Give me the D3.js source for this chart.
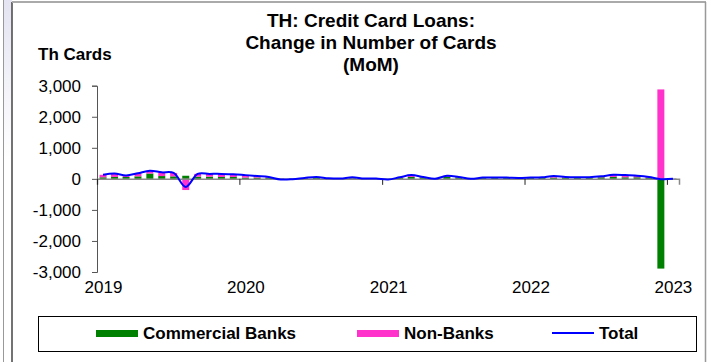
<!DOCTYPE html>
<html>
<head>
<meta charset="utf-8">
<script src="https://cdn.jsdelivr.net/npm/d3@7"></script>
<style>
  body { margin: 0; background: #fff; }
  svg { display: block; font-family: Arial, "Liberation Sans", sans-serif; }
</style>
</head>
<body>
<div id="chart"></div>
<script>
'use strict';

// months Jan 2019 .. Jan 2023
var months = d3.timeMonths(new Date(2019, 0, 1), new Date(2023, 1, 1));

// Th cards, MoM change
var commercialBanks = [
  50, 60, 60, 80, 170, 90, 80, 100, 70, 70, 60, 60,
  40, 40, 30, 10, 10, 20, 30, 20, 10, 20, 10, 10,
  -10, 30, 60, 50, 10, 60, 50, 10, 30, 30, 30, 20,
  30, 30, 40, 40, 30, 40, 50, 60, 50, 50, 30, -2890,
  10
];
var nonBanks = [
  80, 110, 50, 100, 90, 120, 110, -360, 90, 90, 100, 90,
  80, 50, 30, -30, -20, 10, 30, 0, 0, 30, 0, 0,
  -10, 20, 60, 10, -10, 40, 10, -10, 10, 10, 10, 10,
  10, 20, 50, 20, 20, 10, 30, 70, 70, 50, 30, 2880,
  -10
];
var total = [
  130, 170, 110, 180, 260, 210, 190, -260, 160, 160, 160, 150,
  120, 90, 60, -20, -10, 30, 60, 20, 10, 50, 10, 10,
  -20, 50, 120, 60, 0, 100, 60, 0, 40, 40, 40, 30,
  40, 50, 90, 60, 50, 50, 80, 130, 120, 100, 60, -10,
  0
];
var yTicks = [-3000, -2000, -1000, 0, 1000, 2000, 3000];
var titleLines = ['TH: Credit Card Loans:', 'Change in Number of Cards', '(MoM)'];

var W = 717, H = 362;
var colors = { bank: '#008000', nonbank: '#ff33cc', total: '#0000ff' };
var fmt = d3.formatLocale({ decimal: '.', thousands: ',', grouping: [3], currency: ['', ''], minus: '-' }).format(',');

var svg = d3.select('#chart').append('svg')
  .attr('width', W)
  .attr('height', H);

// page decoration / frame
var grad = svg.append('defs').append('linearGradient')
  .attr('id', 'band').attr('x1', 0).attr('y1', 0).attr('x2', 0).attr('y2', 1);
grad.append('stop').attr('offset', '0%').attr('stop-color', '#e4e4f2');
grad.append('stop').attr('offset', '100%').attr('stop-color', '#ffffff');
svg.append('rect').attr('x', 4).attr('y', 0).attr('width', 8).attr('height', 160).attr('fill', 'url(#band)');
svg.append('line').attr('x1', 3.5).attr('x2', 3.5).attr('y1', 0).attr('y2', H).attr('stroke', '#999').attr('stroke-width', 1);
svg.append('line').attr('x1', 12).attr('x2', 12).attr('y1', 2).attr('y2', H).attr('stroke', '#444').attr('stroke-width', 1.5);
svg.append('line').attr('x1', 12).attr('x2', 706).attr('y1', 2).attr('y2', 2).attr('stroke', '#aaa').attr('stroke-width', 2);
svg.append('line').attr('x1', 705.5).attr('x2', 705.5).attr('y1', 2).attr('y2', H).attr('stroke', '#999').attr('stroke-width', 1.5);

// title
svg.append('text')
  .attr('text-anchor', 'middle')
  .attr('font-weight', 'bold')
  .attr('font-size', 19)
  .selectAll('tspan')
  .data(titleLines)
  .enter().append('tspan')
  .attr('x', 371)
  .attr('y', function(d, i) { return 27 + i * 22; })
  .text(function(d) { return d; });

svg.append('text')
  .attr('x', 38).attr('y', 60)
  .attr('font-weight', 'bold').attr('font-size', 17)
  .text('Th Cards');

// scales
var x = d3.scaleTime()
  .domain([new Date(2019, 0, 1), new Date(2023, 1, 1)])
  .range([97, 679]);
var y = d3.scaleLinear()
  .domain([-3000, 3000])
  .range([272, 85.7]);

function monthCenter(d) {
  return (x(d) + x(d3.timeMonth.offset(d, 1))) / 2;
}

var barW = 7;
var rows = months.map(function(d, i) {
  return { date: d, bank: commercialBanks[i], nonbank: nonBanks[i], total: total[i] };
});

// stacked bars: positives stack up, negatives stack down
var segs = [];
rows.forEach(function(r) {
  var pos = 0, neg = 0;
  [['bank', r.bank], ['nonbank', r.nonbank]].forEach(function(s) {
    var v = s[1], y0, y1;
    if (v >= 0) { y0 = pos; y1 = pos + v; pos = y1; }
    else { y0 = neg; y1 = neg + v; neg = y1; }
    segs.push({ date: r.date, key: s[0], y0: y0, y1: y1 });
  });
});

// y axis
var yAxis = svg.append('g')
  .attr('transform', 'translate(97,0)')
  .call(d3.axisLeft(y).tickValues(yTicks).tickSize(5).tickPadding(11)
    .tickFormat(fmt));
yAxis.select('.domain').attr('stroke', '#555');
yAxis.selectAll('.tick line').attr('stroke', '#555');
yAxis.selectAll('text').attr('font-size', 17).attr('fill', '#000')
  .attr('font-family', 'Arial, "Liberation Sans", sans-serif');

svg.append('g').selectAll('rect')
  .data(segs)
  .enter().append('rect')
  .attr('x', function(d) { return monthCenter(d.date) - barW / 2; })
  .attr('width', barW)
  .attr('y', function(d) { return y(Math.max(d.y0, d.y1)); })
  .attr('height', function(d) { return Math.abs(y(d.y0) - y(d.y1)); })
  .attr('fill', function(d) { return colors[d.key]; });

// x axis at zero
var xAxis = svg.append('g')
  .attr('transform', 'translate(0,' + y(0) + ')')
  .call(d3.axisBottom(x).ticks(d3.timeYear).tickSize(6).tickFormat(''));
xAxis.select('.domain').attr('stroke', '#888').attr('stroke-width', 1.5);
xAxis.selectAll('.tick line').attr('stroke', '#222');

// year labels along the bottom
var xLabels = svg.append('g')
  .attr('transform', 'translate(6,281)')
  .call(d3.axisBottom(x).ticks(d3.timeYear).tickSize(0).tickPadding(0)
    .tickFormat(d3.timeFormat('%Y')));
xLabels.select('.domain').remove();
xLabels.selectAll('text').attr('font-size', 17).attr('fill', '#000')
  .attr('font-family', 'Arial, "Liberation Sans", sans-serif');

// total line
var line = d3.line()
  .x(function(d) { return monthCenter(d.date); })
  .y(function(d) { return y(d.total); })
  .curve(d3.curveCatmullRom.alpha(0.5));
svg.append('path')
  .datum(rows)
  .attr('d', line)
  .attr('fill', 'none')
  .attr('stroke', colors.total)
  .attr('stroke-width', 2);

// legend
var legend = svg.append('g');
legend.append('rect')
  .attr('x', 38.5).attr('y', 316.5).attr('width', 658).attr('height', 35)
  .attr('fill', '#fff').attr('stroke', '#000');
var items = [
  { label: 'Commercial Banks', key: 'bank', x: 96 },
  { label: 'Non-Banks', key: 'nonbank', x: 357 },
  { label: 'Total', key: 'total', x: 552 }
];
items.forEach(function(it) {
  if (it.key === 'total') {
    legend.append('line')
      .attr('x1', it.x).attr('x2', it.x + 42).attr('y1', 333).attr('y2', 333)
      .attr('stroke', colors.total).attr('stroke-width', 2);
  } else {
    legend.append('rect')
      .attr('x', it.x).attr('y', 330).attr('width', 42).attr('height', 7)
      .attr('fill', colors[it.key]);
  }
  legend.append('text')
    .attr('x', it.x + 47).attr('y', 339)
    .attr('font-weight', 'bold').attr('font-size', 17)
    .text(it.label);
});
</script>
</body>
</html>
